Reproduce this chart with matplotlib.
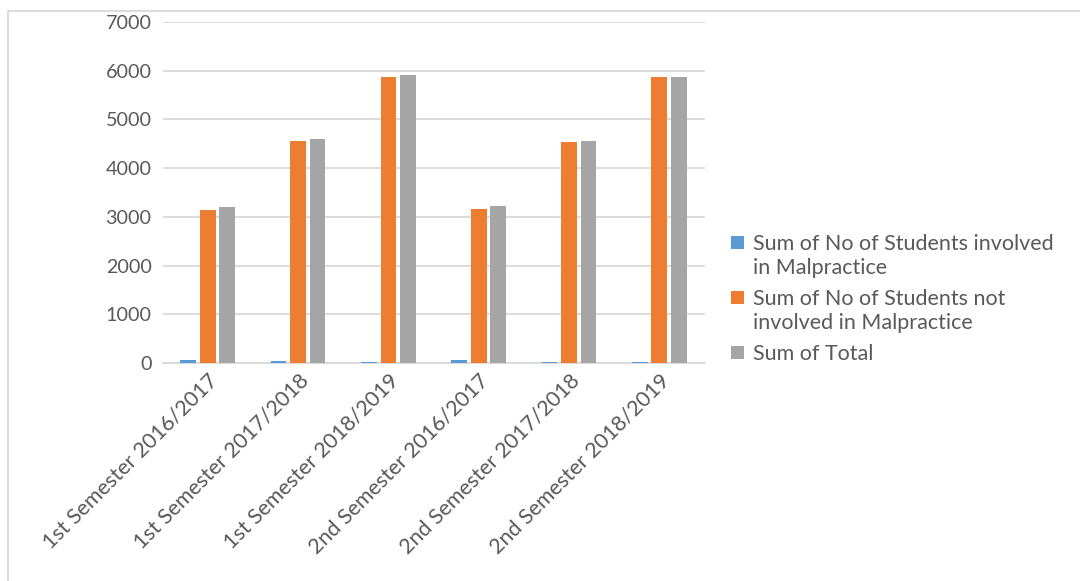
import matplotlib
matplotlib.use("Agg")
import matplotlib.pyplot as plt
from matplotlib.patches import Rectangle
import numpy as np

categories = ["1st Semester 2016/2017", "1st Semester 2017/2018", "1st Semester 2018/2019",
              "2nd Semester 2016/2017", "2nd Semester 2017/2018", "2nd Semester 2018/2019"]
involved = [60, 45, 22, 65, 22, 12]
not_involved = [3140, 4560, 5880, 3160, 4540, 5865]
total = [3200, 4605, 5902, 3225, 4562, 5877]
series_labels = ["Sum of No of Students involved\nin Malpractice",
                 "Sum of No of Students not\ninvolved in Malpractice",
                 "Sum of Total"]
colors = ["#5B9BD5", "#ED7D31", "#A5A5A5"]
yticks = [0, 1000, 2000, 3000, 4000, 5000, 6000, 7000]

plt.rcParams['font.family'] = ['Lato', 'DejaVu Sans']
W, H = 1080, 581
fig = plt.figure(figsize=(W / 100, H / 100), dpi=100)
fig.patches.append(Rectangle((8 / W, 1 - 620 / H), 1200 / W, 609 / H, transform=fig.transFigure,
                             fill=False, edgecolor="#d9d9d9", linewidth=1.3))

ax = fig.add_axes([162.6 / W, 1 - 363 / H, (704.5 - 162.6) / W, (363 - 22) / H])
x = np.arange(len(categories))
bw = 0.174
step = 0.216
for i, (vals, lab, c) in enumerate(zip([involved, not_involved, total], series_labels, colors)):
    ax.bar(x + (i - 1) * step, vals, width=bw, color=c, label=lab, zorder=3)

ax.set_xlim(-0.5, len(categories) - 0.5)
ax.set_ylim(0, 7000)
ax.set_yticks(yticks)
ax.set_yticklabels([str(v) for v in yticks], fontsize=14.2, color="#595959")
ax.set_xticks(x)
ax.set_xticklabels(categories, rotation=45, ha="right", rotation_mode="anchor",
                   fontsize=15.5, color="#595959")
ax.tick_params(axis="y", length=0, pad=8)
ax.tick_params(axis="x", length=0, pad=5)
ax.grid(axis="y", color="#d9d9d9", linewidth=1.3, zorder=0)
for s in ["left", "right", "top"]:
    ax.spines[s].set_visible(False)
ax.spines["bottom"].set_color("#d9d9d9")
ax.spines["bottom"].set_linewidth(1.3)

# Legend (Excel style: marker aligned with first line of each entry)
line_h = 23.5
item_gap = 8.0
y_c = 242.5
for lab, c in zip(series_labels, colors):
    lines = lab.split("\n")
    fig.patches.append(Rectangle((731 / W, 1 - (y_c + 6.5) / H), 13 / W, 13 / H,
                                 transform=fig.transFigure, facecolor=c, edgecolor="none"))
    for k, ln in enumerate(lines):
        yy = y_c + k * line_h
        fig.text(753 / W, 1 - (yy + 7.8) / H, ln, fontsize=15.5, color="#595959",
                 ha="left", va="baseline")
    y_c += len(lines) * line_h + item_gap

fig.savefig("out.png", dpi=100)
